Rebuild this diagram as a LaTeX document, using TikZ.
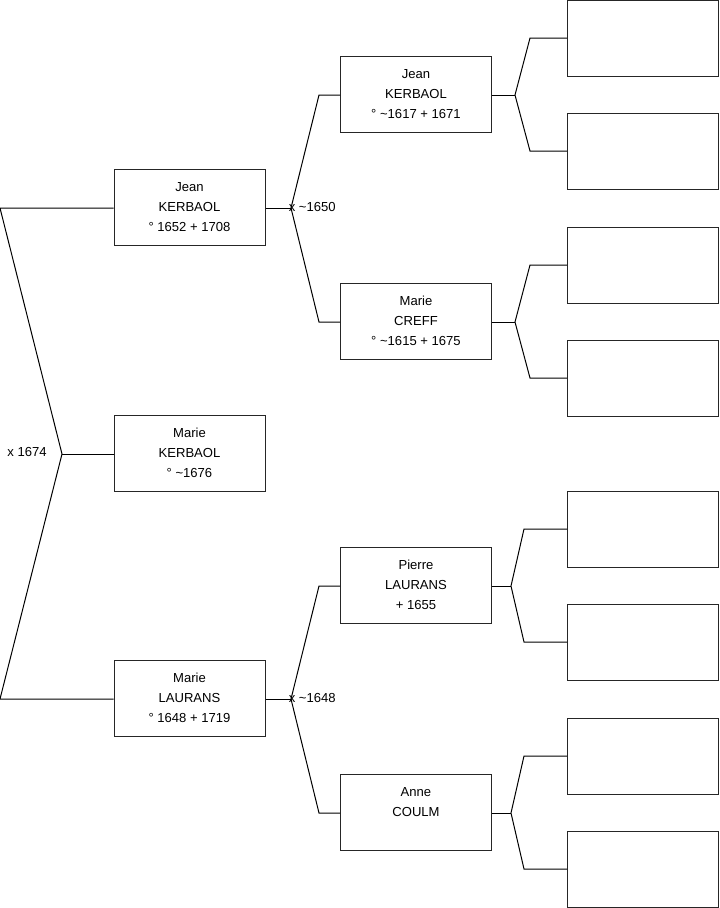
\documentclass[tikz,border=0pt]{standalone}
\usepackage{fontspec}
\setmainfont{Liberation Sans}
\begin{document}
\begin{tikzpicture}[x=0.75pt,y=-0.75pt,
  person/.style={draw=black!85,line width=0.75pt,minimum width=113.25pt,minimum height=57pt,inner sep=0pt,align=center,font=\fontsize{9.8pt}{15pt}\selectfont},
  empty/.style={draw=black!85,line width=0.75pt,minimum width=113.25pt,minimum height=57pt,inner sep=0pt},
  link/.style={draw=black,line width=0.75pt,line join=miter},
  lbl/.style={inner sep=0pt,font=\fontsize{9.8pt}{11pt}\selectfont}]
\useasboundingbox (0,0) rectangle (719,908);
% generation 1
\node[person] (a1) at (189.5,207) {Jean\\KERBAOL\\° 1652 + 1708};
\node[person] (a0) at (189.5,453) {Marie\\KERBAOL\\° \textasciitilde1676};
\node[person] (a2) at (189.5,698) {Marie\\LAURANS\\° 1648 + 1719};
% generation 2
\node[person] (b1) at (416,94) {Jean\\KERBAOL\\° \textasciitilde1617 + 1671};
\node[person] (b2) at (416,321) {Marie\\CREFF\\° \textasciitilde1615 + 1675};
\node[person] (b3) at (416,585) {Pierre\\LAURANS\\+ 1655};
\node[person] (b4) at (416,812) {Anne\\COULM\\\mbox{}};
% generation 3
\node[empty] (c1) at (643,38) {};
\node[empty] (c2) at (643,151) {};
\node[empty] (c3) at (643,265) {};
\node[empty] (c4) at (643,378) {};
\node[empty] (c5) at (643,529) {};
\node[empty] (c6) at (643,642) {};
\node[empty] (c7) at (643,756) {};
\node[empty] (c8) at (643,869) {};
% left bracket
\coordinate (L1) at (0,208);
\coordinate (L2) at (0,699);
\coordinate (J0) at (62,454);
\draw[link] (a1.west |- L1) -- (L1) -- (J0) -- (L2) -- (a2.west |- L2);
\draw[link] (J0) -- (a0.west |- J0);
\node[lbl] (m0) at (27,452) {x 1674};
% generation 1 -> 2
\coordinate (J1) at (291,208);
\coordinate (J1a) at (319,95);
\coordinate (J1b) at (319,322);
\draw[link] (a1.east |- J1) -- (J1);
\draw[link] (b1.west |- J1a) -- (J1a) -- (J1) -- (J1b) -- (b2.west |- J1b);
\node[lbl,anchor=west] (m1) at (288.5,207) {x \textasciitilde1650};
\coordinate (J2) at (291,699);
\coordinate (J2a) at (319,586);
\coordinate (J2b) at (319,813);
\draw[link] (a2.east |- J2) -- (J2);
\draw[link] (b3.west |- J2a) -- (J2a) -- (J2) -- (J2b) -- (b4.west |- J2b);
\node[lbl,anchor=west] (m2) at (288.5,698) {x \textasciitilde1648};
% generation 2 -> 3
\coordinate (K1) at (515,95);
\coordinate (K1a) at (530,38);
\coordinate (K1b) at (530,151);
\draw[link] (b1.east |- K1) -- (K1);
\draw[link] (c1.west) -- (K1a) -- (K1) -- (K1b) -- (c2.west);
\coordinate (K2) at (515,322);
\coordinate (K2a) at (530,265);
\coordinate (K2b) at (530,378);
\draw[link] (b2.east |- K2) -- (K2);
\draw[link] (c3.west) -- (K2a) -- (K2) -- (K2b) -- (c4.west);
\coordinate (K3) at (511,586);
\coordinate (K3a) at (524,529);
\coordinate (K3b) at (524,642);
\draw[link] (b3.east |- K3) -- (K3);
\draw[link] (c5.west) -- (K3a) -- (K3) -- (K3b) -- (c6.west);
\coordinate (K4) at (511,813);
\coordinate (K4a) at (524,756);
\coordinate (K4b) at (524,869);
\draw[link] (b4.east |- K4) -- (K4);
\draw[link] (c7.west) -- (K4a) -- (K4) -- (K4b) -- (c8.west);
\end{tikzpicture}
\end{document}
